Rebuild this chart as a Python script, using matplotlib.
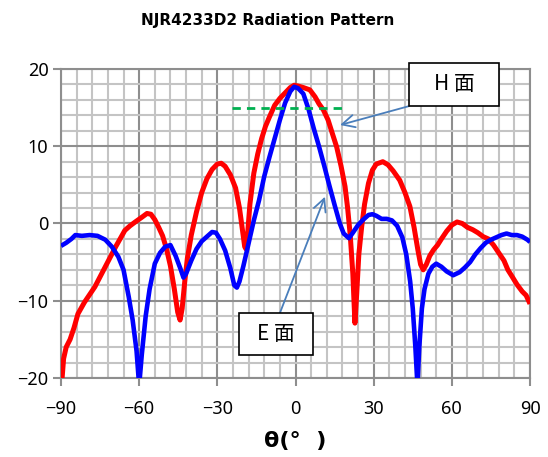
import numpy as np
import matplotlib.pyplot as plt
from matplotlib.patches import Rectangle
from matplotlib.ticker import MultipleLocator

plt.rcParams['font.family'] = ['Noto Sans', 'DejaVu Sans']

# E面 (blue)
e_deg = [-90, -88, -86, -84.5, -82, -79, -76, -73, -70.5, -68, -66, -64, -62.5, -61, -60,
         -59, -57.5, -56, -54, -52, -50, -48, -46, -44, -43, -42, -40, -38, -36, -34, -32,
         -30.5, -29, -27, -25, -23.5, -22.5, -21.5, -20, -18.5, -16, -14, -12, -10, -8, -6,
         -4, -2, -0.5, 1, 3, 5, 7, 9, 11, 13, 15, 17, 18.5, 20.5, 22, 24, 26, 28, 29.5, 31,
         33, 35, 37, 39, 41, 42.5, 44, 45, 46, 46.8, 47.5, 48.5, 49.5, 51, 52.5, 54, 56, 58,
         60.5, 63, 65, 67, 69, 71, 73, 75, 77, 79, 81, 83, 85, 87, 89, 90]
e_db = [-2.9, -2.5, -2.0, -1.5, -1.6, -1.5, -1.6, -2.1, -3.0, -4.3, -6.0, -9.5, -12.5, -16.5, -21,
        -17, -12, -8.5, -5.2, -3.8, -3.0, -2.8, -4.2, -6.0, -7.0, -6.5, -4.8, -3.3, -2.3, -1.7, -1.1,
        -1.2, -2.0, -3.5, -5.8, -8.0, -8.3, -7.5, -5.5, -3.3, 0.4, 3.0, 6.1, 8.6, 11.0, 13.4,
        15.6, 17.1, 17.7, 17.5, 16.8, 14.8, 12.3, 10.0, 7.5, 4.9, 2.4, 0.0, -1.3, -1.9, -1.2, -0.2, 0.5, 1.1, 1.2, 1.0,
        0.6, 0.6, 0.4, -0.3, -1.8, -4.0, -7.5, -11, -16, -21, -16, -11, -8.5, -6.5, -5.6, -5.2, -5.6, -6.2,
        -6.7, -6.3, -5.7, -5.0, -4.0, -3.2, -2.5, -2.1, -1.8, -1.5, -1.3, -1.5, -1.5, -1.7, -2.1, -2.4]

# H面 (red)
h_deg = [-89.8, -89, -88, -86.5, -85, -83.5, -81, -79, -77, -75, -73, -71, -69, -67, -65.5, -63.5,
         -61.5, -59, -57, -55.5, -54, -52.5, -51, -49.5, -48, -46.5, -45.2, -44.3, -43.5, -42.5,
         -41.5, -40, -38, -36, -34, -32, -30, -28.5, -27, -25, -23, -21.5, -20.5, -19.5, -19,
         -18.3, -17.5, -16, -14.5, -13, -11.5, -10, -8, -6, -4, -2, -0.5, 1, 3, 5.5, 7.5, 9,
         10.7, 12.5, 14, 15.8, 17.5, 19, 20, 21, 22, 22.8, 23.5, 24.3, 25.4, 26.5, 28, 29.5, 31,
         33.5, 35.5, 37.5, 40, 42, 43.9, 45.5, 47, 48, 49, 50.2, 51.5, 53, 54.5, 56, 58, 60, 62,
         64, 66, 68, 70, 72, 74, 76, 78, 80, 81.5, 83, 85, 87, 88.5, 90]
h_db = [-21, -17.5, -16, -15, -13.5, -11.7, -10.2, -9.2, -8.2, -6.9, -5.6, -4.3, -3.0, -1.8, -0.9, -0.3,
        0.2, 0.8, 1.3, 1.2, 0.5, -0.5, -1.6, -3.3, -5.5, -8.5, -11.5, -12.5, -11, -7.5,
        -4.5, -1.5, 1.5, 4.0, 5.8, 7.0, 7.7, 7.8, 7.4, 6.3, 4.6, 2.0, -0.5, -3.0, -3.3,
        -1.0, 2.5, 6.5, 9.0, 11.0, 12.6, 13.8, 15.3, 16.2, 16.9, 17.6, 17.9, 17.8, 17.6, 17.3, 16.4, 15.5,
        14.7, 13.4, 11.8, 9.9, 7.4, 4.8, 2.0, -1.5, -6.5, -12.9, -9, -4, -0.4, 2.5, 5.2, 6.9, 7.7,
        8.0, 7.6, 6.8, 5.6, 4.0, 2.2, -0.5, -3.5, -5.3, -6.0, -5.3, -4.2, -3.4, -2.8, -2.0, -1.0, -0.2, 0.2,
        0.0, -0.5, -0.8, -1.2, -1.7, -2.0, -2.8, -3.8, -4.8, -6.0, -6.8, -7.9, -8.8, -9.3, -10.4]

# -3dB line
bw_deg = [-24.5, 19.6]
bw_db = [15.0, 15.0]

fig = plt.figure(figsize=(5.48, 4.57), dpi=100)
ax = fig.add_axes([0.1113, 0.1729, 0.8559, 0.6761])

ax.set_xlim(-90, 90)
ax.set_ylim(-20, 20)
ax.xaxis.set_major_locator(MultipleLocator(30))
ax.xaxis.set_minor_locator(MultipleLocator(6))
ax.yaxis.set_major_locator(MultipleLocator(10))
ax.yaxis.set_minor_locator(MultipleLocator(2))
ax.grid(which='minor', color='#c4c4c4', lw=1.5, zorder=0)
ax.grid(which='major', color='#8e8e8e', lw=1.5, zorder=0)
ax.set_axisbelow(True)
for s in ax.spines.values():
    s.set_color('#8e8e8e')
    s.set_linewidth(1.5)
ax.tick_params(which='major', direction='out', length=6, width=1.5, color='#8e8e8e',
               labelsize=13, pad=3)
ax.tick_params(axis='x', which='major', pad=10)
ax.tick_params(which='minor', length=0)

ax.plot(h_deg, h_db, color='#ff0000', lw=3.6, solid_capstyle='butt', zorder=3)
ax.plot(e_deg, e_db, color='#0000ff', lw=3.3, solid_capstyle='butt', zorder=4)
ax.plot(bw_deg, bw_db, color='#00b050', lw=2, ls=(0, (3, 2.2)), zorder=5)

arrow_c = '#4a7ebb'
ax.annotate('', xy=(17.1, 12.75), xytext=(43.6, 15.2),
            arrowprops=dict(arrowstyle='->,head_length=0.9,head_width=0.45', color=arrow_c, lw=1.3,
                            shrinkA=0, shrinkB=0), zorder=6, annotation_clip=False)
ax.annotate('', xy=(11.3, 3.47), xytext=(-6.0, -11.6),
            arrowprops=dict(arrowstyle='->,head_length=0.9,head_width=0.45', color=arrow_c, lw=1.3,
                            shrinkA=0, shrinkB=0), zorder=6, annotation_clip=False)

cjk = ['Noto Sans CJK JP', 'DejaVu Sans']
ax.add_patch(Rectangle((43.6, 15.2), 34.5, 5.6, facecolor='white', edgecolor='black', lw=1.2,
                       zorder=7, clip_on=False))
ax.text(60.85, 18.0, 'H 面', ha='center', va='center', fontsize=15, family=cjk, zorder=8)
ax.add_patch(Rectangle((-21.5, -17.0), 28.3, 5.4, facecolor='white', edgecolor='black', lw=1.2,
                       zorder=7, clip_on=False))
ax.text(-7.35, -14.3, 'E 面', ha='center', va='center', fontsize=15, family=cjk, zorder=8)

fig.text(0.489, 0.955, 'NJR4233D2 Radiation Pattern', ha='center', va='center',
         fontsize=11, fontweight='bold', family=['DejaVu Sans'])
fig.text(0.538, 0.035, 'θ(°  )', ha='center', va='center', fontsize=16, fontweight='bold',
         family=['DejaVu Sans'])

fig.savefig('out.png', dpi=100)
